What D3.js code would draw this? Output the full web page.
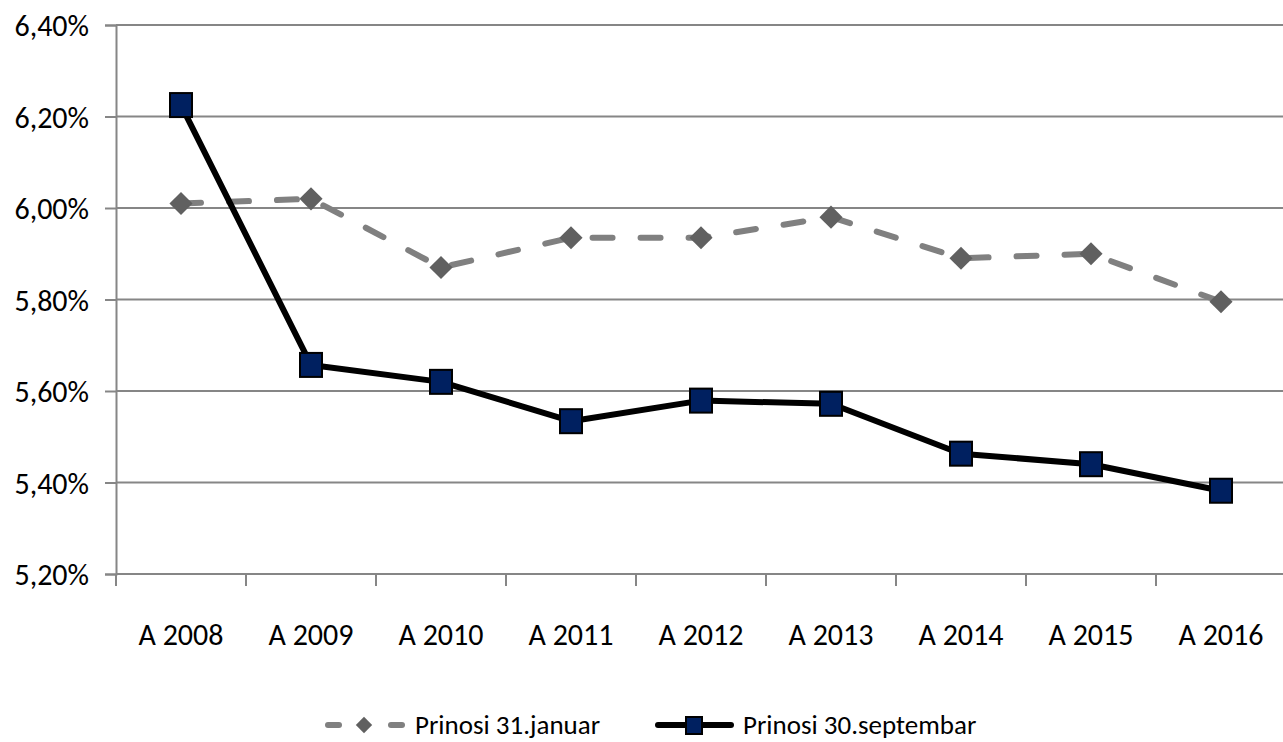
<!DOCTYPE html>
<html>
<head>
<meta charset="utf-8">
<script src="https://cdn.jsdelivr.net/npm/d3@7"></script>
<style>
  body { margin: 0; background: #fff; }
  svg text { font-family: Carlito, "Liberation Sans Narrow", "DejaVu Sans Condensed", sans-serif; fill: #000; }
</style>
</head>
<body>
<svg id="chart" width="1283" height="742"></svg>
<script>
// data
const years = ["A 2008","A 2009","A 2010","A 2011","A 2012","A 2013","A 2014","A 2015","A 2016"];
const januar = [6.01, 6.02, 5.87, 5.935, 5.935, 5.98, 5.89, 5.90, 5.795];
const septembar = [6.225, 5.657, 5.62, 5.534, 5.579, 5.572, 5.463, 5.44, 5.382];
const yTicks = [5.2, 5.4, 5.6, 5.8, 6.0, 6.2, 6.4];
const seriesNames = ["Prinosi 31.januar", "Prinosi 30.septembar"];

const svg = d3.select("#chart");
const plotLeft = 116, plotTop = 25, plotBottom = 574, band = 130;
const fontFam = 'Carlito, "Liberation Sans Narrow", "DejaVu Sans Condensed", sans-serif';

let x = d3.scaleBand().domain(years).range([plotLeft, plotLeft + band * years.length]);
let y = d3.scaleLinear().domain([5.2, 6.4]).range([plotBottom, plotTop]);
const fmt = v => v.toFixed(2).replace(".", ",") + "%";

// gridlines
svg.append("g").selectAll("line").data(yTicks).enter().append("line")
  .attr("x1", plotLeft).attr("x2", 1283)
  .attr("y1", d => y(d)).attr("y2", d => y(d))
  .attr("stroke", "#868686").attr("stroke-width", 2);

// y axis
let yAxis = d3.axisLeft(y).tickValues(yTicks).tickFormat(fmt).tickSize(11).tickPadding(16);
let yg = svg.append("g").attr("transform", `translate(${plotLeft},0)`).call(yAxis);
yg.select(".domain").attr("stroke", "#868686").attr("stroke-width", 2);
yg.selectAll(".tick line").attr("stroke", "#868686").attr("stroke-width", 2);
yg.selectAll("text").attr("font-size", 30).attr("dy", "0.35em").style("font-family", fontFam);

// x axis, ticks between categories
let xAxis = d3.axisBottom(x).tickSize(0).tickPadding(50);
let xg = svg.append("g").attr("transform", `translate(0,${plotBottom})`).call(xAxis);
xg.select(".domain").remove();
xg.selectAll("text").attr("font-size", 30).style("font-family", fontFam);
svg.append("line").attr("x1", plotLeft).attr("x2", 1283).attr("y1", plotBottom).attr("y2", plotBottom)
  .attr("stroke", "#868686").attr("stroke-width", 2);
svg.append("g").selectAll("line").data(d3.range(years.length + 1)).enter().append("line")
  .attr("x1", i => plotLeft + i * band).attr("x2", i => plotLeft + i * band)
  .attr("y1", plotBottom).attr("y2", plotBottom + 12)
  .attr("stroke", "#868686").attr("stroke-width", 2);

const cx = (d, i) => x(years[i]) + x.bandwidth() / 2;

// januar: dashed grey with diamonds
let line = d3.line().x((d, i) => cx(d, i)).y(d => y(d));
svg.append("path").datum(januar).attr("d", line)
  .attr("fill", "none").attr("stroke", "#808080").attr("stroke-width", 6)
  .attr("stroke-dasharray", "20,28").attr("stroke-linecap", "round");
let diamond = d3.symbol().type(d3.symbolDiamond2).size(340);
svg.append("g").selectAll("path").data(januar).enter().append("path")
  .attr("d", diamond)
  .attr("transform", (d, i) => `translate(${cx(d, i)},${y(d)})`)
  .attr("fill", "#606060");

// septembar: solid black with navy squares
svg.append("path").datum(septembar).attr("d", line)
  .attr("fill", "none").attr("stroke", "#000").attr("stroke-width", 6)
  .attr("stroke-linejoin", "round");
svg.append("g").selectAll("rect").data(septembar).enter().append("rect")
  .attr("x", (d, i) => cx(d, i) - 11).attr("y", d => y(d) - 12)
  .attr("width", 22).attr("height", 24)
  .attr("fill", "#002060").attr("stroke", "#000").attr("stroke-width", 2);

// legend
const ly = 725;
let lg = svg.append("g");
lg.append("line").attr("x1", 328).attr("x2", 339).attr("y1", ly).attr("y2", ly)
  .attr("stroke", "#808080").attr("stroke-width", 6).attr("stroke-linecap", "round");
lg.append("line").attr("x1", 391).attr("x2", 402).attr("y1", ly).attr("y2", ly)
  .attr("stroke", "#808080").attr("stroke-width", 6).attr("stroke-linecap", "round");
lg.append("path").attr("d", d3.symbol().type(d3.symbolDiamond2).size(170))
  .attr("transform", `translate(364,${ly})`).attr("fill", "#606060");
lg.append("text").attr("x", 415).attr("y", ly).attr("dy", "0.35em")
  .attr("font-size", 27).style("font-family", fontFam).text(seriesNames[0]);

lg.append("line").attr("x1", 658).attr("x2", 731).attr("y1", ly).attr("y2", ly)
  .attr("stroke", "#000").attr("stroke-width", 6).attr("stroke-linecap", "round");
lg.append("rect").attr("x", 686).attr("y", ly - 8).attr("width", 16).attr("height", 17)
  .attr("fill", "#002060").attr("stroke", "#000").attr("stroke-width", 2);
lg.append("text").attr("x", 743).attr("y", ly).attr("dy", "0.35em")
  .attr("font-size", 27).style("font-family", fontFam).text(seriesNames[1]);
</script>
</body>
</html>
